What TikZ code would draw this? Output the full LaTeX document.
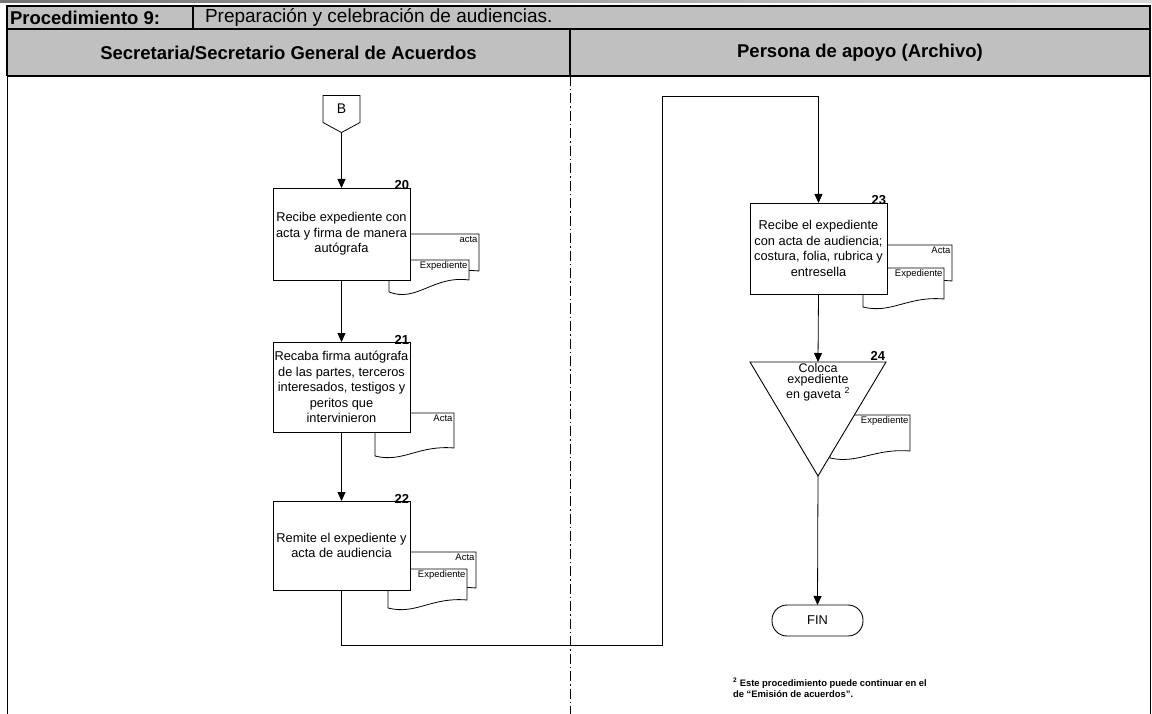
\documentclass[tikz,border=0pt]{standalone}
\usepackage{fontspec}
\setmainfont{Liberation Sans}
\usetikzlibrary{arrows.meta,calc}

\definecolor{hdrgray}{RGB}{192,192,192}

% document sheet with a wavy lower edge:
% #1 name, #2 left x, #3 right x, #4 top y, #5 bottom y at the left edge,
% #6 rise of the right end, #7 label
\newcommand\docsheet[7]{%
  \draw[docline] (#2,#4) -- (#3,#4) -- (#3,{#5-#6})
    .. controls ({#2+0.55*(#3-#2)},{#5-1.4*#6}) and ({#2+0.35*(#3-#2)},{#5+0.9*#6}) .. (#2,#5) -- cycle;
  \node[doclbl] (#1) at ({#3-1.5},{#4+2}) {#7};}

\begin{document}
\begin{tikzpicture}[x=1pt,y=-1pt,
  every node/.style={inner sep=0pt, outer sep=0pt},
  hdr/.style={font=\fontsize{18.5}{22}\selectfont\bfseries},
  stepbox/.style={draw, line width=0.9pt, fill=white, minimum width=137pt,
    align=center, font=\fontsize{12.8}{15.5}\selectfont},
  num/.style={font=\fontsize{13}{15}\selectfont\bfseries, anchor=south east},
  docline/.style={draw, line width=0.8pt, fill=white},
  doclbl/.style={font=\fontsize{9.5}{11}\selectfont, anchor=north east},
  flow/.style={line width=0.8pt, -{Triangle[length=9pt,width=8pt]}},
  lane/.style={line width=0.8pt, dash pattern=on 10pt off 3pt on 1.5pt off 3pt},
]
\useasboundingbox (0,0) rectangle (1152,714);

% top edge strip
\shade[left color=gray!90!black, right color=gray!30] (0,0) rectangle (1152,2.5);

% header table
\fill[hdrgray] (7,6) rectangle (1150,76);
\draw[line width=1.2pt] (7,76) -- (7,6) -- (1150,6) -- (1150,76);
\draw[line width=1.2pt] (7,29) -- (1150,29);
\draw[line width=1.2pt] (7,76) -- (1150,76);
\draw[line width=1.2pt] (193,6) -- (193,29);
\draw[line width=1.2pt] (570,29) -- (570,76);
\draw[line width=0.8pt] (7,76) -- (7,714);
\draw[line width=0.8pt] (1150,76) -- (1150,714);
\draw[lane] (570,76) -- (570,714);

\node[hdr, anchor=west] (proc) at (10,17.5) {Procedimiento 9:};
\node[font=\fontsize{19}{22}\selectfont, anchor=west] (title) at (205,17.5)
  {Preparación y celebración de audiencias.};
\node[hdr] (laneA) at (288.5,53) {Secretaria/Secretario General de Acuerdos};
\node[hdr] (laneB) at (860,53) {Persona de apoyo (Archivo)};

% off-page connector
\node[minimum width=37pt, minimum height=27pt, font=\fontsize{14}{16}\selectfont] (B) at (341.5,109) {B};
\coordinate (Btip) at ($(B.south)+(0,10)$);
\draw[line width=0.8pt] (B.north west) -- (B.north east) -- (B.south east) -- (Btip) -- (B.south west) -- cycle;

% documents
\docsheet{d20a}{395}{479}{234}{281}{10}{acta}
\docsheet{d20e}{389}{469}{260}{292}{12}{Expediente}
\docsheet{d21}{375}{454}{413}{456}{8}{Acta}
\docsheet{d22a}{395}{476}{552}{598}{10}{Acta}
\docsheet{d22e}{388}{467}{569}{608}{8}{Expediente}
\docsheet{d23a}{870}{952}{245}{291}{10}{Acta}
\docsheet{d23e}{863}{944}{268}{307}{8}{Expediente}
\docsheet{d24}{830}{910}{415}{458}{7}{Expediente}

% activities
\node[stepbox, minimum height=92pt] (b20) at (341.5,234)
  {Recibe expediente con\\acta y firma de manera\\autógrafa};
\node[num] (n20) at ($(b20.north east)+(-1,2)$) {20};

\node[stepbox, minimum height=90pt] (b21) at (341.5,387)
  {Recaba firma autógrafa\\de las partes, terceros\\interesados, testigos y\\peritos que\\intervinieron};
\node[num] (n21) at ($(b21.north east)+(-1,2)$) {21};

\node[stepbox, minimum height=89pt] (b22) at (341.5,545.5)
  {Remite el expediente y\\acta de audiencia};
\node[num] (n22) at ($(b22.north east)+(-1,2)$) {22};

\node[stepbox, minimum height=91pt] (b23) at (818.5,248.5)
  {Recibe el expediente\\con acta de audiencia;\\costura, folia, rubrica y\\entresella};
\node[num] (n23) at ($(b23.north east)+(-1,2)$) {23};

% storage triangle
\coordinate (t24a) at (750,362);
\coordinate (t24b) at (886,362);
\coordinate (t24c) at (818,476);
\coordinate (t24top) at (818,362);
\draw[line width=0.9pt, fill=white] (t24a) -- (t24b) -- (t24c) -- cycle;
\node[align=center, font=\fontsize{12.5}{11.5}\selectfont] (t24) at (818,382)
  {Coloca\\expediente\\en gaveta \textsuperscript{2}};
\node[num] (n24) at (885,360) {24};

% terminator
\node[draw, line width=0.9pt, rounded corners=15pt, minimum width=91pt, minimum height=31pt,
  font=\fontsize{12.8}{15}\selectfont] (fin) at (817.5,620.5) {FIN};

% connectors
\coordinate (turnA) at (662,645);
\coordinate (turnB) at (662,96);
\draw[flow] (Btip) -- (b20.north);
\draw[flow] (b20.south) -- (b21.north);
\draw[flow] (b21.south) -- (b22.north);
\draw[flow] (b22.south) |- (turnA) -- (turnB) -| (b23.north);
\draw[flow] (b23.south) -- (t24top);
\draw[flow] (t24c) -- (fin.north);

% footnote
\node[anchor=north west, align=left, font=\fontsize{9.4}{11}\selectfont\bfseries] (note) at (733,678)
  {\textsuperscript{2} Este procedimiento puede continuar en el\\de “Emisión de acuerdos”.};
\end{tikzpicture}
\end{document}
